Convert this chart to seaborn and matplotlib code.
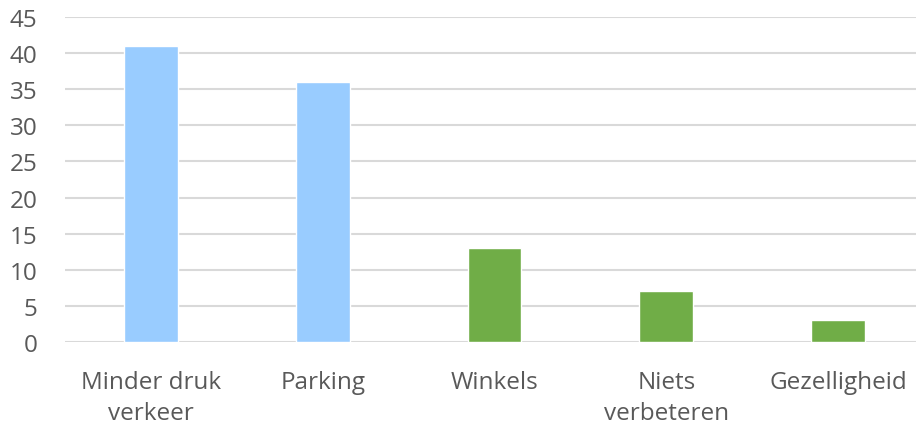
import matplotlib
matplotlib.use("Agg")
import matplotlib.pyplot as plt
import seaborn as sns

# Survey answers: what should be improved
categories = ["Minder druk\nverkeer", "Parking", "Winkels", "Niets\nverbeteren", "Gezelligheid"]
counts = [41, 36, 13, 7, 3]
bar_colors = ["#99CCFF", "#99CCFF", "#70AD47", "#70AD47", "#70AD47"]
y_ticks = [0, 5, 10, 15, 20, 25, 30, 35, 40, 45]

sns.set_theme(style="white")
plt.rcParams["font.family"] = ["Open Sans", "DejaVu Sans"]

fig = plt.figure(figsize=(9.16, 4.27), dpi=100)
ax = fig.add_axes([65 / 916, 1 - 343 / 427, 859 / 916, 325 / 427])

sns.barplot(x=categories, y=counts, hue=categories, palette=bar_colors,
            legend=False, width=0.314, saturation=1, ax=ax)

ax.set_ylim(0, 45)
ax.set_yticks(y_ticks)
ax.set_xlim(-0.5, len(categories) - 0.5)
ax.yaxis.grid(True, color="#D9D9D9", linewidth=1.5)
ax.set_axisbelow(True)
for side in ax.spines.values():
    side.set_visible(False)

ax.tick_params(axis="y", length=0, pad=20, labelsize=17.5, labelcolor="#595959")
ax.tick_params(axis="x", length=0, pad=20, labelsize=17.5, labelcolor="#595959")
for lbl in ax.get_xticklabels():
    lbl.set_linespacing(1.42)
ax.set_xlabel("")
ax.set_ylabel("")

fig.savefig("out.png", dpi=100)
